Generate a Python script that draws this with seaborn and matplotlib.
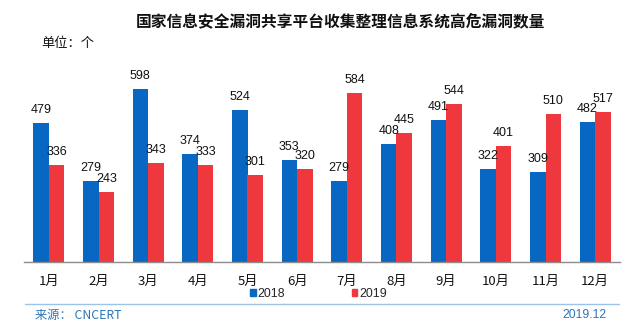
import matplotlib
matplotlib.use("Agg")
import matplotlib.pyplot as plt
import seaborn as sns
import pandas as pd
import numpy as np
from matplotlib.patches import Rectangle
from matplotlib.lines import Line2D

months = ["1月", "2月", "3月", "4月", "5月", "6月", "7月", "8月", "9月", "10月", "11月", "12月"]
series_names = ["2018", "2019"]
values_2018 = [479, 279, 598, 374, 524, 353, 279, 408, 491, 322, 309, 482]
values_2019 = [336, 243, 343, 333, 301, 320, 584, 445, 544, 401, 510, 517]
title = "国家信息安全漏洞共享平台收集整理信息系统高危漏洞数量"
unit_text = "单位：个"
source_text = "来源： CNCERT"
date_text = "2019.12"

sns.set_theme(style="white")
plt.rcParams['font.family'] = ['Noto Sans CJK SC', 'DejaVu Sans']

df = pd.DataFrame({
    "month": months * 2,
    "year": [series_names[0]] * len(months) + [series_names[1]] * len(months),
    "value": values_2018 + values_2019,
})

blue = "#0767C2"
red = "#EE383D"

W, H = 643, 336
fig = plt.figure(figsize=(W / 100, H / 100), dpi=100)
ax = fig.add_axes([24 / W, (H - 262) / H, 596 / W, 203 / H])
sns.barplot(data=df, x="month", y="value", hue="year", order=months,
            hue_order=series_names, palette=[blue, red], width=0.63,
            gap=0, ax=ax, legend=False, edgecolor="none", saturation=1)
ax.set_ylim(0, 700)
ax.set_xlim(-0.5, len(months) - 0.5)
for c in ax.containers:
    ax.bar_label(c, padding=5, fontsize=9, family=["Liberation Sans"], color="#111111")

for s in ["top", "right", "left"]:
    ax.spines[s].set_visible(False)
ax.spines["bottom"].set_color("#8C8C8C")
ax.spines["bottom"].set_linewidth(1.0)
ax.set_yticks([])
ax.set_xlabel("")
ax.set_ylabel("")
ax.set_xticks(range(len(months)))
ax.set_xticklabels(months, fontsize=9.5, color="#111111", fontweight="medium")
ax.tick_params(axis="x", length=0, pad=9)
ax.set_xticks(np.arange(-0.5, len(months)), minor=True)
ax.tick_params(axis="x", which="minor", length=4, color="#8C8C8C", width=0.8, direction="in")

fig.text(340.5 / W, 1 - 21 / H, title, ha="center", va="center",
         fontsize=11.3, fontweight="bold", color="#111111")
fig.text(41 / W, 1 - 43 / H, unit_text, ha="left", va="center",
         fontsize=9.5, color="#111111")

handles = [Rectangle((0, 0), 1, 1, color=blue), Rectangle((0, 0), 1, 1, color=red)]
fig.legend(handles, series_names, loc="center", bbox_to_anchor=(318.5 / W, 1 - 294 / H),
           ncol=2, frameon=False, handlelength=0.45, handleheight=0.45,
           columnspacing=5.4, handletextpad=0.15, borderpad=0, borderaxespad=0,
           prop={"family": ["Liberation Sans"], "size": 8.9})

fig.add_artist(Line2D([25 / W, 619 / W], [1 - 304 / H, 1 - 304 / H],
                      transform=fig.transFigure, color="#9DC3E6", linewidth=1.0))
fig.text(35 / W, 1 - 315 / H, source_text, ha="left", va="center",
         fontsize=8.8, color="#2E75B6")
fig.text(607 / W, 1 - 315 / H, date_text, ha="right", va="center",
         fontsize=8.8, color="#2E75B6", family=["Liberation Sans"])

fig.savefig("out.png", dpi=100, facecolor="white")
